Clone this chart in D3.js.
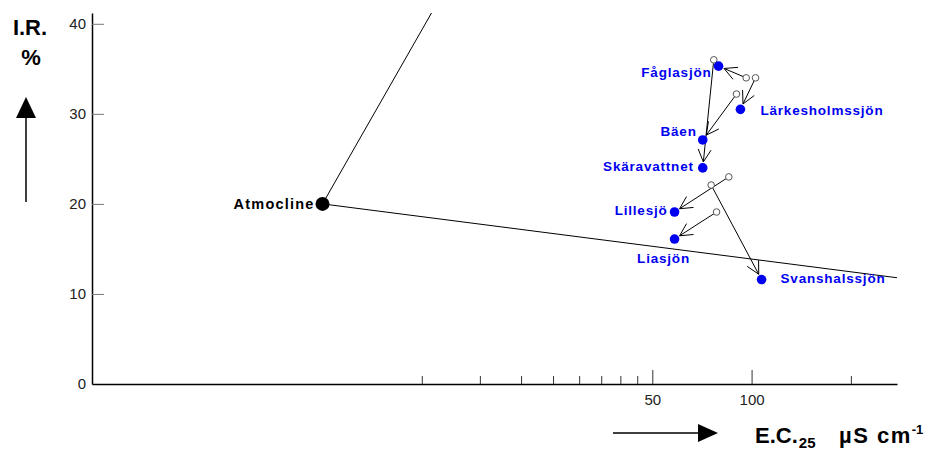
<!DOCTYPE html>
<html lang="en">
<head>
  <meta charset="UTF-8">
  <title>I.R. vs E.C.25</title>
  <script src="https://d3js.org/d3.v7.min.js"></script>
  <style>
    body {
      margin: 0;
      padding: 0;
      background: white;
    }
    svg {
      font-family: "Liberation Sans", Arial, sans-serif;
    }
    .lake-label {
      font-size: 13.5px;
      font-weight: bold;
      fill: #0000f0;
      letter-spacing: 0.8px;
    }
    .tick text {
      font-size: 15px;
      fill: #222;
    }
  </style>
</head>
<body>
  <script>
    // lakes: now (filled) and earlier (open) positions
    const lakes = ["Fåglasjön", "Lärkesholmssjön", "Bäen", "Skäravattnet", "Lillesjö", "Liasjön", "Svanshalssjön"];
    const ecNow = [79.4, 92.5, 71.1, 71.1, 58.4, 58.4, 107.2];
    const irNow = [35.3, 30.5, 27.1, 24.0, 19.1, 16.1, 11.6];
    const ecBefore = [96.3, 102.8, 90.0, 76.8, 85.3, 78.3, 75.4];
    const irBefore = [34.0, 34.0, 32.2, 36.0, 23.0, 19.1, 22.1];

    // atmocline point and the two mixing lines out of it
    const atmoEc = 5, atmoIr = 20;
    const upperLineEnd = [10.7, 41.2];
    const lowerLineEnd = [276, 11.8];

    // axis ticks
    const xMinorTicks = [10, 15, 20, 25, 30, 35, 40, 45, 200];
    const xMajorTicks = [50, 100];
    const yTicks = [0, 10, 20, 30, 40];

    // label placement (anchor, dx, dy) per lake
    const labelPos = [
      ["end", -7, 11], ["start", 20, 6], ["end", -6, -4], ["end", -9, 3],
      ["end", -7, 3], ["middle", -11, 24], ["start", 19, 3]
    ];

    const width = 937, height = 459;
    const plotLeft = 92, plotRight = 897, plotTop = 13, plotBottom = 384;

    const svg = d3.select("body").append("svg")
      .attr("width", width)
      .attr("height", height);

    const x = d3.scaleLog().domain([1, 276]).range([plotLeft, plotRight]);
    const y = d3.scaleLinear().domain([0, 41.2]).range([plotBottom, plotTop]);

    svg.append("clipPath").attr("id", "plot")
      .append("rect")
      .attr("x", plotLeft).attr("y", plotTop)
      .attr("width", plotRight - plotLeft).attr("height", plotBottom - plotTop);

    // y axis
    const yAxis = svg.append("g")
      .attr("transform", `translate(${plotLeft},0)`)
      .call(d3.axisLeft(y).tickValues(yTicks).tickSizeInner(-12).tickSizeOuter(0).tickPadding(6));
    yAxis.selectAll(".tick line").attr("stroke", "#777");
    yAxis.select(".domain").attr("stroke", "#000").attr("stroke-width", 1.5);

    // x axis: minor then major ticks
    const xMinor = svg.append("g")
      .attr("transform", `translate(0,${plotBottom})`)
      .call(d3.axisBottom(x).tickValues(xMinorTicks).tickSizeInner(-8).tickSizeOuter(0).tickFormat(""));
    xMinor.select(".domain").attr("stroke", "#000").attr("stroke-width", 1.5);
    xMinor.selectAll(".tick line").attr("stroke", "#333");

    const xMajor = svg.append("g")
      .attr("transform", `translate(0,${plotBottom})`)
      .call(d3.axisBottom(x).tickValues(xMajorTicks).tickSizeInner(-14).tickSizeOuter(0)
        .tickPadding(10).tickFormat(d3.format("d")));
    xMajor.select(".domain").remove();
    xMajor.selectAll(".tick line").attr("stroke", "#333");

    // mixing lines from atmocline
    const lines = svg.append("g").attr("clip-path", "url(#plot)");
    [upperLineEnd, lowerLineEnd].forEach(e => {
      lines.append("line")
        .attr("x1", x(atmoEc)).attr("y1", y(atmoIr))
        .attr("x2", x(e[0])).attr("y2", y(e[1]))
        .attr("stroke", "#000").attr("stroke-width", 1);
    });

    svg.append("circle")
      .attr("cx", x(atmoEc)).attr("cy", y(atmoIr)).attr("r", 7)
      .attr("fill", "#000");
    svg.append("text")
      .attr("x", x(atmoEc) - 8).attr("y", y(atmoIr) + 5)
      .attr("text-anchor", "end")
      .style("font-size", "14.5px").style("font-weight", "bold").style("letter-spacing", "1.2px")
      .text("Atmocline");

    // arrows from earlier to present position
    const arrows = svg.append("g").attr("stroke", "#000").attr("stroke-width", 1).attr("fill", "none");
    lakes.forEach((name, i) => {
      const x0 = x(ecBefore[i]), y0 = y(irBefore[i]);
      const x1 = x(ecNow[i]), y1 = y(irNow[i]);
      const ang = Math.atan2(y1 - y0, x1 - x0);
      const tx = x1 - 6 * Math.cos(ang), ty = y1 - 6 * Math.sin(ang);
      arrows.append("line").attr("x1", x0).attr("y1", y0).attr("x2", tx).attr("y2", ty);
      [-0.48, 0.48].forEach(a => {
        arrows.append("line")
          .attr("x1", tx).attr("y1", ty)
          .attr("x2", tx - 14 * Math.cos(ang + a))
          .attr("y2", ty - 14 * Math.sin(ang + a));
      });
    });

    svg.append("g").selectAll("circle")
      .data(lakes)
      .join("circle")
      .attr("cx", (d, i) => x(ecBefore[i]))
      .attr("cy", (d, i) => y(irBefore[i]))
      .attr("r", 3.3)
      .attr("fill", "white")
      .attr("stroke", "#555")
      .attr("stroke-width", 1);

    svg.append("g").selectAll("circle")
      .data(lakes)
      .join("circle")
      .attr("cx", (d, i) => x(ecNow[i]))
      .attr("cy", (d, i) => y(irNow[i]))
      .attr("r", 4.8)
      .attr("fill", "#0000f0");

    svg.append("g").selectAll("text")
      .data(lakes)
      .join("text")
      .attr("class", "lake-label")
      .attr("x", (d, i) => x(ecNow[i]) + labelPos[i][1])
      .attr("y", (d, i) => y(irNow[i]) + labelPos[i][2])
      .attr("text-anchor", (d, i) => labelPos[i][0])
      .text(d => d);

    // y title and up arrow
    svg.append("text")
      .attr("x", 30).attr("y", 35)
      .attr("text-anchor", "middle")
      .style("font-size", "22px").style("font-weight", "bold")
      .text("I.R.");
    svg.append("text")
      .attr("x", 31).attr("y", 65)
      .attr("text-anchor", "middle")
      .style("font-size", "22px").style("font-weight", "bold")
      .text("%");
    svg.append("line")
      .attr("x1", 26).attr("y1", 202).attr("x2", 26).attr("y2", 115)
      .attr("stroke", "#000").attr("stroke-width", 1.5);
    svg.append("path")
      .attr("d", "M26,97L36,118L16,118Z")
      .attr("fill", "#000");

    // x title and right arrow
    svg.append("line")
      .attr("x1", 613).attr("y1", 433).attr("x2", 700).attr("y2", 433)
      .attr("stroke", "#000").attr("stroke-width", 1.5);
    svg.append("path")
      .attr("d", "M718,433L698,424L698,442Z")
      .attr("fill", "#000");

    const xt = svg.append("text")
      .attr("y", 443)
      .style("font-size", "22px").style("font-weight", "bold");
    xt.append("tspan").attr("x", 755).text("E.C.");
    xt.append("tspan").attr("dy", 5).attr("dx", 1)
      .style("font-size", "15px").text("25");
    xt.append("tspan").attr("x", 839).attr("dy", -5)
      .style("letter-spacing", "1.5px").text("µS cm");
    xt.append("tspan").attr("dy", -9).style("font-size", "13px").text("-1");
  </script>
</body>
</html>
